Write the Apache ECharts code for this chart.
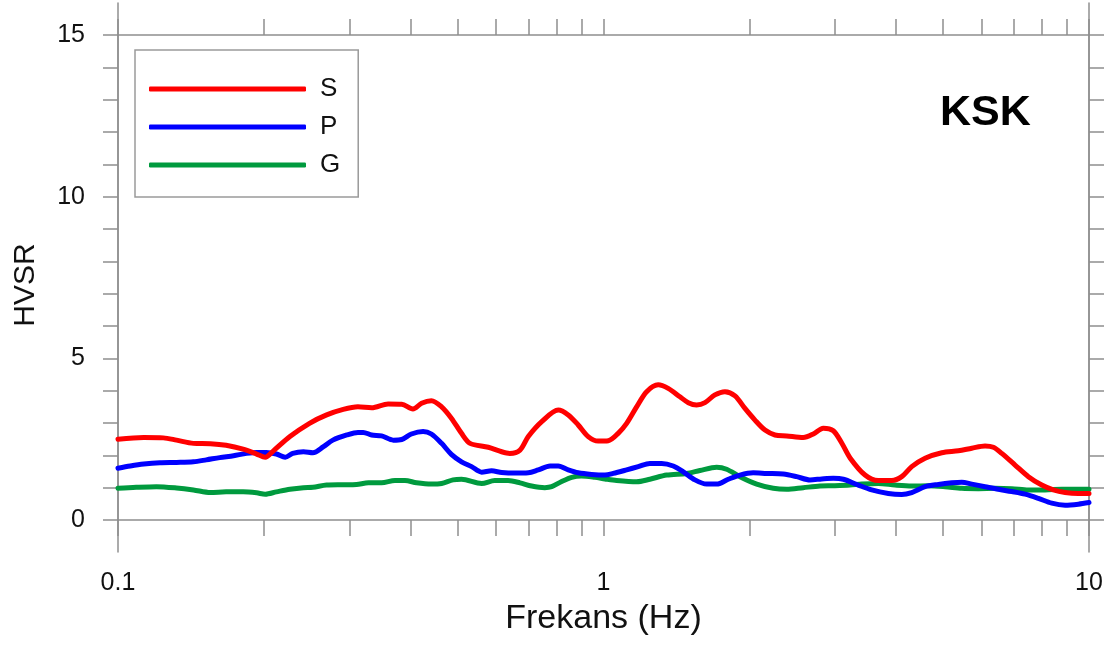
<!DOCTYPE html>
<html>
<head>
<meta charset="utf-8">
<script src="https://cdn.jsdelivr.net/npm/echarts@6/dist/echarts.min.js"></script>
<style>
  html, body { margin: 0; padding: 0; background: #fff; }
  #chart { width: 1113px; height: 645px; }
</style>
</head>
<body>
<div id="chart"></div>
<script>
// H/V spectral ratio curves for station KSK, [frequency (Hz), HVSR]
const seriesNames = ['S', 'P', 'G'];

const hvsrS = [
  [0.1, 2.50], [0.113, 2.55], [0.124, 2.54], [0.132, 2.47], [0.143, 2.37], [0.155, 2.36],
  [0.167, 2.31], [0.181, 2.19], [0.193, 2.04], [0.201, 1.94], [0.209, 2.14], [0.226, 2.58],
  [0.248, 2.99], [0.269, 3.25], [0.291, 3.42], [0.312, 3.50], [0.333, 3.47], [0.360, 3.59],
  [0.384, 3.58], [0.405, 3.43], [0.422, 3.61], [0.442, 3.69], [0.464, 3.50], [0.486, 3.15],
  [0.510, 2.68], [0.531, 2.37], [0.579, 2.25], [0.617, 2.11], [0.641, 2.06], [0.673, 2.16],
  [0.700, 2.58], [0.746, 3.04], [0.807, 3.40], [0.846, 3.25], [0.887, 2.94], [0.930, 2.58],
  [0.975, 2.44], [1.023, 2.45], [1.072, 2.68], [1.116, 2.99], [1.170, 3.50], [1.227, 3.97],
  [1.296, 4.18], [1.359, 4.07], [1.437, 3.81], [1.495, 3.63], [1.555, 3.56], [1.618, 3.63],
  [1.696, 3.87], [1.779, 3.97], [1.866, 3.84], [1.956, 3.45], [2.051, 3.09], [2.151, 2.78],
  [2.255, 2.63], [2.384, 2.60], [2.579, 2.55], [2.705, 2.66], [2.836, 2.84], [2.974, 2.76],
  [3.095, 2.38], [3.220, 1.92], [3.457, 1.39], [3.681, 1.22], [3.923, 1.22], [4.114, 1.34],
  [4.314, 1.65], [4.596, 1.91], [4.975, 2.08], [5.382, 2.14], [5.735, 2.22], [6.107, 2.29],
  [6.353, 2.25], [6.612, 2.06], [7.042, 1.70], [7.502, 1.34], [7.993, 1.08], [8.445, 0.93],
  [8.928, 0.85], [9.508, 0.82], [10, 0.82]
];

const hvsrP = [
  [0.1, 1.60], [0.106, 1.67], [0.113, 1.73], [0.122, 1.77], [0.132, 1.78], [0.143, 1.80],
  [0.152, 1.86], [0.162, 1.93], [0.173, 1.99], [0.184, 2.06], [0.193, 2.09], [0.202, 2.09],
  [0.212, 2.04], [0.221, 1.94], [0.229, 2.06], [0.241, 2.11], [0.252, 2.08], [0.265, 2.27],
  [0.277, 2.47], [0.296, 2.63], [0.312, 2.71], [0.320, 2.71], [0.333, 2.63], [0.349, 2.60],
  [0.369, 2.47], [0.384, 2.49], [0.402, 2.66], [0.425, 2.74], [0.442, 2.66], [0.464, 2.37],
  [0.486, 2.03], [0.510, 1.80], [0.535, 1.65], [0.561, 1.48], [0.588, 1.52], [0.617, 1.47],
  [0.657, 1.45], [0.700, 1.46], [0.734, 1.55], [0.776, 1.67], [0.807, 1.67], [0.846, 1.55],
  [0.887, 1.46], [0.945, 1.41], [1.007, 1.39], [1.047, 1.44], [1.116, 1.55], [1.179, 1.65],
  [1.246, 1.75], [1.318, 1.75], [1.392, 1.67], [1.460, 1.49], [1.543, 1.24], [1.631, 1.11],
  [1.710, 1.11], [1.807, 1.26], [1.910, 1.39], [2.034, 1.46], [2.168, 1.44], [2.346, 1.42],
  [2.500, 1.34], [2.662, 1.24], [2.815, 1.27], [2.974, 1.29], [3.119, 1.26], [3.348, 1.08],
  [3.568, 0.93], [3.861, 0.82], [4.114, 0.79], [4.314, 0.85], [4.596, 1.03], [4.895, 1.10],
  [5.217, 1.15], [5.470, 1.17], [5.735, 1.11], [6.107, 1.03], [6.505, 0.95], [6.932, 0.88],
  [7.385, 0.80], [7.866, 0.67], [8.381, 0.52], [8.928, 0.46], [9.508, 0.49], [10, 0.54]
];

const hvsrG = [
  [0.1, 0.98], [0.109, 1.01], [0.120, 1.03], [0.132, 0.99], [0.143, 0.93], [0.155, 0.85],
  [0.167, 0.87], [0.181, 0.87], [0.193, 0.84], [0.201, 0.80], [0.212, 0.87], [0.226, 0.95],
  [0.241, 1.00], [0.252, 1.01], [0.269, 1.08], [0.291, 1.09], [0.310, 1.10], [0.328, 1.15],
  [0.349, 1.15], [0.372, 1.22], [0.390, 1.22], [0.412, 1.15], [0.442, 1.11], [0.464, 1.13],
  [0.490, 1.24], [0.510, 1.26], [0.561, 1.13], [0.597, 1.22], [0.636, 1.22], [0.673, 1.15],
  [0.711, 1.05], [0.757, 1.00], [0.782, 1.03], [0.820, 1.19], [0.860, 1.32], [0.901, 1.36],
  [0.960, 1.32], [1.007, 1.27], [1.064, 1.22], [1.170, 1.18], [1.246, 1.26], [1.349, 1.39],
  [1.483, 1.44], [1.580, 1.53], [1.710, 1.63], [1.793, 1.57], [1.910, 1.34], [2.068, 1.11],
  [2.237, 0.98], [2.384, 0.95], [2.579, 1.00], [2.792, 1.05], [2.974, 1.06], [3.219, 1.08],
  [3.403, 1.11], [3.681, 1.13], [3.985, 1.08], [4.314, 1.05], [4.669, 1.06], [5.053, 1.03],
  [5.470, 0.98], [5.917, 0.97], [6.405, 0.98], [6.932, 0.97], [7.502, 0.93], [8.119, 0.93],
  [8.788, 0.95], [9.508, 0.95], [10, 0.95]
];

// Axis tick positions and labels
const xTickValues = [0.1, 0.2, 0.3, 0.4, 0.5, 0.6, 0.7, 0.8, 0.9,
                     1, 2, 3, 4, 5, 6, 7, 8, 9, 10];
const xLabelValues = [0.1, 1, 10];
const yLabelValues = [0, 5, 10, 15];

const FONT = '"Liberation Sans", Arial, Helvetica, sans-serif';
const AXIS_GREY = '#8f8f8f';
const colors = ['#ff0000', '#0000ff', '#009a3e'];

const chart = echarts.init(document.getElementById('chart'), null, { renderer: 'canvas' });

const axisLine = { show: true, onZero: false, lineStyle: { color: AXIS_GREY, width: 1.5 } };

function xAxisOf(position, withLabels) {
  return {
    type: 'log', logBase: 10, gridIndex: 0, position: position,
    min: 0.1, max: 10,
    axisLine: axisLine,
    axisTick: { show: true, inside: false, length: 16, customValues: xTickValues,
                lineStyle: { color: AXIS_GREY, width: 1.5 } },
    minorTick: { show: false },
    splitLine: { show: false },
    axisLabel: withLabels ? {
      show: true, customValues: xLabelValues, margin: 51,
      fontFamily: FONT, fontSize: 25, color: '#111',
      formatter: v => String(+v.toPrecision(3))
    } : { show: false },
    name: withLabels ? 'Frekans (Hz)' : '',
    nameLocation: 'middle', nameGap: 82,
    nameTextStyle: { fontFamily: FONT, fontSize: 34, color: '#111' }
  };
}

function yAxisOf(position, withLabels) {
  return {
    type: 'value', gridIndex: 0, position: position,
    min: 0, max: 15, interval: 5,
    axisLine: axisLine,
    axisTick: { show: true, inside: false, length: 15,
                lineStyle: { color: AXIS_GREY, width: 1.5 } },
    minorTick: { show: true, splitNumber: 5, length: 15,
                 lineStyle: { color: AXIS_GREY, width: 1.5 } },
    splitLine: { show: false },
    axisLabel: withLabels ? {
      show: true, customValues: yLabelValues, margin: 33,
      fontFamily: FONT, fontSize: 25, color: '#111'
    } : { show: false }
  };
}

// Outer frame: vertical axis lines run a little past 0 and 15
function frameAxisOf(position) {
  return {
    type: 'value', gridIndex: 1, position: position,
    min: -1, max: 16,
    axisLine: axisLine,
    axisTick: { show: false }, axisLabel: { show: false }, splitLine: { show: false }
  };
}

const seriesData = [hvsrS, hvsrP, hvsrG];

const option = {
  backgroundColor: '#ffffff',
  animation: false,
  grid: [
    { left: 118, right: 24, top: 35, bottom: 125 },
    { left: 118, right: 24, top: 3, bottom: 93 }
  ],
  xAxis: [
    xAxisOf('bottom', true),
    xAxisOf('top', false),
    { type: 'value', gridIndex: 1, show: false, min: 0, max: 1 }
  ],
  yAxis: [
    yAxisOf('left', true),
    yAxisOf('right', false),
    frameAxisOf('left'),
    frameAxisOf('right')
  ],
  legend: {
    orient: 'vertical', left: 135, top: 50,
    data: seriesNames.map(n => ({ name: n, icon: 'roundRect' })),
    itemWidth: 157, itemHeight: 5, itemGap: 12,
    padding: [26, 18, 19, 14],
    borderColor: '#9a9a9a', borderWidth: 1.5, borderRadius: 0,
    backgroundColor: '#fff',
    textStyle: { fontFamily: FONT, fontSize: 26, color: '#111', lineHeight: 26,
                 padding: [0, 0, 0, 9] }
  },
  graphic: [
    {
      type: 'text', left: 940, top: 92,
      style: { text: 'KSK', font: 'bold 43px ' + FONT, fill: '#000' }
    },
    {
      type: 'text', x: 26, y: 285, rotation: Math.PI / 2,
      style: { text: 'HVSR', font: '30px ' + FONT, fill: '#111',
               align: 'center', verticalAlign: 'middle' }
    }
  ],
  series: seriesNames.map((name, i) => ({
    name: name,
    type: 'line',
    xAxisIndex: 0, yAxisIndex: 0,
    data: seriesData[i],
    showSymbol: false, symbol: 'none',
    smooth: 0.3,
    lineStyle: { color: colors[i], width: 5, cap: 'round', join: 'round' },
    itemStyle: { color: colors[i] },
    z: 3 - i + 2
  }))
};

chart.setOption(option);
</script>
</body>
</html>
